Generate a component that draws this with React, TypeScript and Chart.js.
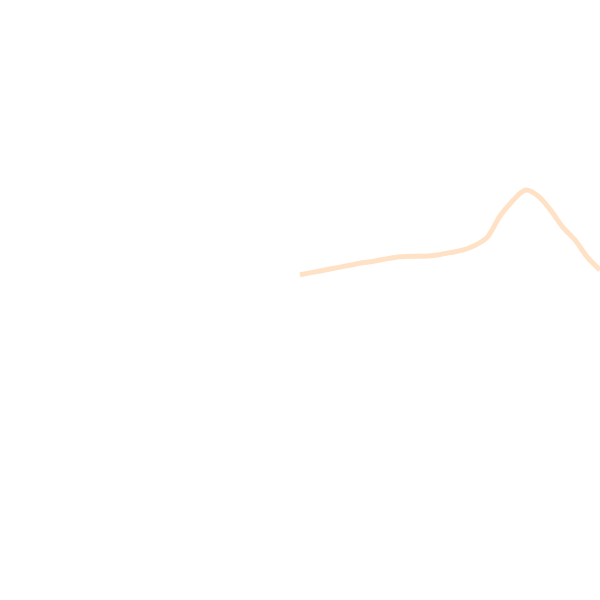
import { useEffect, useRef } from "react"
import { Chart, registerables } from "chart.js"

Chart.register(...registerables)

// 49 evenly spaced steps across the width; the series only starts half way
const steps: string[] = Array.from({ length: 49 }, (_, i) => `t${i}`)

const leadingGap: (number | null)[] = Array(24).fill(null)

const readings: number[] = [
  54.2, 54.6, 55.0, 55.4, 55.8, 56.2, 56.5, 56.9, 57.2, 57.3, 57.3, 57.5, 57.9,
  58.3, 59.1, 60.5, 64.0, 66.5, 68.3, 67.4, 65.1, 62.2, 60.0, 57.1, 55.0,
]

const series: (number | null)[] = [...leadingGap, ...readings]

const yMin = 0
const yMax = 100

export default function App() {
  const chartRef = useRef<HTMLCanvasElement>(null)
  const chartInstance = useRef<Chart | null>(null)

  useEffect(() => {
    if (!chartRef.current) return

    if (chartInstance.current) {
      chartInstance.current.destroy()
    }

    const ctx = chartRef.current.getContext("2d")
    if (!ctx) return

    chartInstance.current = new Chart(ctx, {
      type: "line",
      data: {
        labels: steps,
        datasets: [
          {
            label: "Series",
            data: series,
            borderColor: "rgba(255, 159, 64, 0.3)",
            backgroundColor: "rgba(255, 159, 64, 0.3)",
            borderWidth: 5,
            pointRadius: 0,
            tension: 0.3,
            fill: false,
          },
        ],
      },
      options: {
        animation: false,
        responsive: true,
        maintainAspectRatio: false,
        layout: { padding: 0 },
        plugins: {
          legend: { display: false },
          tooltip: { enabled: false },
        },
        scales: {
          x: { display: false, offset: false },
          y: { display: false, min: yMin, max: yMax },
        },
      },
    })

    return () => {
      if (chartInstance.current) {
        chartInstance.current.destroy()
        chartInstance.current = null
      }
    }
  }, [])

  return (
    <div style={{ position: "fixed", left: 0, top: 0, width: 600, height: 600, background: "#fff" }}>
      <canvas ref={chartRef} />
    </div>
  )
}
